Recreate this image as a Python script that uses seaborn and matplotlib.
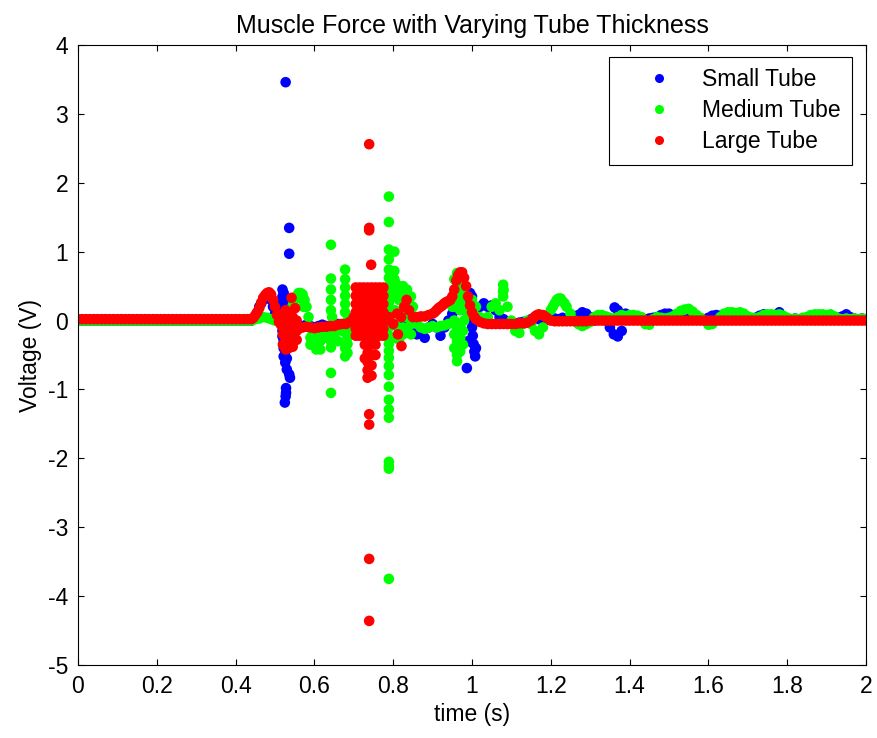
import matplotlib
matplotlib.use("Agg")
import matplotlib.pyplot as plt
from matplotlib.lines import Line2D
import seaborn as sns
import pandas as pd

# === Data (time in s, voltage in V) ===
time = [
    0.00, 0.01, 0.02, 0.03, 0.04, 0.05, 0.06, 0.07, 0.08, 0.09,
    0.10, 0.11, 0.12, 0.13, 0.14, 0.15, 0.16, 0.17, 0.18, 0.19,
    0.20, 0.21, 0.22, 0.23, 0.24, 0.25, 0.26, 0.27, 0.28, 0.29,
    0.30, 0.31, 0.32, 0.33, 0.34, 0.35, 0.36, 0.37, 0.38, 0.39,
    0.40, 0.41, 0.42, 0.43, 0.44, 0.45, 0.46, 0.47, 0.48, 0.49,
    0.50, 0.51, 0.52, 0.53, 0.54, 0.55, 0.56, 0.57, 0.58, 0.59,
    0.60, 0.61, 0.62, 0.63, 0.64, 0.65, 0.66, 0.67, 0.68, 0.69,
    0.70, 0.71, 0.72, 0.73, 0.74, 0.75, 0.76, 0.77, 0.78, 0.79,
    0.80, 0.81, 0.82, 0.83, 0.84, 0.85, 0.86, 0.87, 0.88, 0.89,
    0.90, 0.91, 0.92, 0.93, 0.94, 0.95, 0.96, 0.97, 0.98, 0.99,
    1.00, 1.01, 1.02, 1.03, 1.04, 1.05, 1.06, 1.07, 1.08, 1.09,
    1.10, 1.11, 1.12, 1.13, 1.14, 1.15, 1.16, 1.17, 1.18, 1.19,
    1.20, 1.21, 1.22, 1.23, 1.24, 1.25, 1.26, 1.27, 1.28, 1.29,
    1.30, 1.31, 1.32, 1.33, 1.34, 1.35, 1.36, 1.37, 1.38, 1.39,
    1.40, 1.41, 1.42, 1.43, 1.44, 1.45, 1.46, 1.47, 1.48, 1.49,
    1.50, 1.51, 1.52, 1.53, 1.54, 1.55, 1.56, 1.57, 1.58, 1.59,
    1.60, 1.61, 1.62, 1.63, 1.64, 1.65, 1.66, 1.67, 1.68, 1.69,
    1.70, 1.71, 1.72, 1.73, 1.74, 1.75, 1.76, 1.77, 1.78, 1.79,
    1.80, 1.81, 1.82, 1.83, 1.84, 1.85, 1.86, 1.87, 1.88, 1.89,
    1.90, 1.91, 1.92, 1.93, 1.94, 1.95, 1.96, 1.97, 1.98, 1.99,
    2.00,
]

small_v = [
    0.00, 0.00, 0.00, 0.00, 0.00, 0.00, 0.00, 0.00, 0.00, 0.00,
    0.00, 0.00, 0.00, 0.00, 0.00, 0.00, 0.00, 0.00, 0.00, 0.00,
    0.00, 0.00, 0.00, 0.00, 0.00, 0.00, 0.00, 0.00, 0.00, 0.00,
    0.00, 0.00, 0.00, 0.00, 0.00, 0.00, 0.00, 0.00, 0.00, 0.00,
    0.00, 0.00, 0.00, 0.00, 0.00, 0.05, 0.20, 0.30, 0.35, 0.30,
    0.10, 0.00, 0.20, 0.00, -0.10, -0.08, -0.10, -0.08, -0.06, -0.08,
    -0.10, -0.08, -0.06, -0.08, -0.10, -0.07, -0.05, -0.08, -0.06, -0.05,
    0.00, -0.05, -0.06, -0.04, -0.05, -0.06, -0.05, -0.04, -0.05, -0.06,
    -0.05, -0.08, -0.06, -0.05, -0.08, -0.10, -0.20, -0.15, -0.25, -0.10,
    -0.05, -0.10, -0.22, -0.10, 0.00, 0.10, 0.20, 0.25, 0.15, -0.30,
    0.35, -0.40, 0.20, 0.25, 0.20, 0.22, 0.15, 0.05, 0.02, -0.03,
    -0.03, -0.04, -0.03, -0.02, -0.03, 0.02, 0.03, 0.02, 0.00, 0.01,
    0.02, 0.03, 0.02, 0.04, 0.03, 0.05, 0.06, 0.08, 0.12, 0.10,
    0.05, 0.00, 0.02, 0.05, 0.00, -0.10, -0.20, -0.23, -0.15, 0.10,
    0.05, 0.03, 0.02, 0.03, 0.02, 0.03, 0.04, 0.05, 0.08, 0.10,
    0.10, 0.06, 0.03, 0.02, 0.03, 0.02, 0.03, 0.04, 0.03, 0.02,
    0.04, 0.07, 0.08, 0.07, 0.04, 0.03, 0.02, 0.03, 0.02, 0.03,
    0.02, 0.03, 0.04, 0.07, 0.09, 0.05, 0.03, 0.08, 0.12, 0.06,
    0.03, 0.02, 0.03, 0.02, 0.03, 0.04, 0.03, 0.02, 0.03, 0.02,
    0.03, 0.02, 0.03, 0.04, 0.06, 0.09, 0.05, 0.03, 0.02, 0.03,
    0.02,
]

medium_v = [
    0.00, 0.00, 0.00, 0.00, 0.00, 0.00, 0.00, 0.00, 0.00, 0.00,
    0.00, 0.00, 0.00, 0.00, 0.00, 0.00, 0.00, 0.00, 0.00, 0.00,
    0.00, 0.00, 0.00, 0.00, 0.00, 0.00, 0.00, 0.00, 0.00, 0.00,
    0.00, 0.00, 0.00, 0.00, 0.00, 0.00, 0.00, 0.00, 0.00, 0.00,
    0.00, 0.00, 0.00, 0.00, 0.00, 0.02, 0.03, 0.05, 0.04, 0.02,
    0.00, -0.02, 0.00, 0.05, 0.15, 0.30, 0.40, 0.38, 0.20, -0.10,
    -0.30, -0.20, -0.15, -0.25, -0.10, -0.20, -0.30, -0.15, -0.10, -0.20,
    -0.10, 0.05, 0.15, 0.10, 0.00, 0.05, 0.10, 0.00, 0.20, 0.40,
    0.55, 0.45, 0.40, 0.35, 0.25, 0.20, -0.05, -0.10, -0.12, -0.10,
    -0.08, -0.10, -0.08, -0.07, -0.05, 0.20, 0.40, 0.30, 0.00, 0.10,
    0.30, 0.20, 0.05, 0.00, 0.05, 0.20, 0.25, 0.15, 0.45, 0.20,
    0.00, -0.15, -0.18, -0.05, 0.00, -0.05, -0.15, -0.20, -0.10, 0.05,
    0.15, 0.25, 0.32, 0.28, 0.20, 0.10, 0.00, -0.05, -0.08, -0.05,
    -0.02, 0.05, 0.08, 0.08, 0.06, 0.04, 0.02, 0.05, 0.08, 0.06,
    0.08, 0.08, 0.07, 0.05, -0.05, -0.06, 0.02, 0.05, 0.04, 0.03,
    0.04, 0.06, 0.10, 0.14, 0.16, 0.17, 0.13, 0.08, 0.04, 0.00,
    -0.06, -0.05, 0.00, 0.05, 0.10, 0.12, 0.12, 0.11, 0.12, 0.10,
    0.06, 0.04, 0.03, 0.05, 0.08, 0.09, 0.09, 0.08, 0.09, 0.07,
    0.04, 0.02, 0.03, 0.02, 0.04, 0.05, 0.08, 0.09, 0.09, 0.09,
    0.08, 0.09, 0.06, 0.03, 0.02, 0.03, 0.02, 0.03, 0.02, 0.03,
    0.02,
]

large_v = [
    0.02, 0.02, 0.02, 0.02, 0.02, 0.02, 0.02, 0.02, 0.02, 0.02,
    0.02, 0.02, 0.02, 0.02, 0.02, 0.02, 0.02, 0.02, 0.02, 0.02,
    0.02, 0.02, 0.02, 0.02, 0.02, 0.02, 0.02, 0.02, 0.02, 0.02,
    0.02, 0.02, 0.02, 0.02, 0.02, 0.02, 0.02, 0.02, 0.02, 0.02,
    0.02, 0.02, 0.02, 0.02, 0.02, 0.08, 0.18, 0.33, 0.40, 0.38,
    0.20, -0.02, -0.10, -0.15, -0.20, -0.15, -0.12, -0.10, -0.09, -0.10,
    -0.11, -0.10, -0.09, -0.09, -0.08, -0.08, -0.06, -0.05, -0.05, -0.02,
    0.05, 0.45, 0.40, 0.20, -0.10, 0.45, 0.30, 0.45, 0.00, 0.05,
    -0.05, 0.10, 0.05, 0.20, 0.15, 0.05, 0.05, 0.06, 0.06, 0.08,
    0.10, 0.15, 0.20, 0.25, 0.28, 0.35, 0.58, 0.70, 0.62, 0.35,
    0.12, 0.02, -0.02, -0.04, -0.05, -0.05, -0.05, -0.05, -0.05, -0.05,
    -0.05, -0.05, -0.04, -0.04, -0.03, 0.00, 0.06, 0.09, 0.08, 0.04,
    0.00, -0.01, -0.01, -0.01, -0.01, -0.01, -0.01, -0.01, -0.01, -0.01,
    0.00, 0.00, 0.00, 0.00, 0.00, 0.00, 0.00, 0.00, 0.00, 0.00,
    0.00, 0.00, 0.00, 0.00, 0.00, 0.00, 0.00, 0.00, 0.00, 0.00,
    0.00, 0.00, 0.00, 0.00, 0.00, 0.00, 0.00, 0.00, 0.00, 0.00,
    0.00, 0.00, 0.00, 0.00, 0.00, 0.00, 0.00, 0.00, 0.00, 0.00,
    0.00, 0.00, 0.00, 0.00, 0.00, 0.00, 0.00, 0.00, 0.00, 0.00,
    0.00, 0.00, 0.00, 0.00, 0.00, 0.00, 0.00, 0.00, 0.00, 0.00,
    0.00, 0.00, 0.00, 0.00, 0.00, 0.00, 0.00, 0.00, 0.00, 0.00,
    0.00,
]

# spikes / vertical bursts / in-between samples on steep parts
small_spike_t = [
    0.527, 0.536, 0.536,
    0.519, 0.519, 0.519, 0.519, 0.519, 0.519, 0.519, 0.519,
    0.522, 0.522, 0.522, 0.522, 0.522, 0.522,
    0.526, 0.526, 0.530, 0.530, 0.536, 0.538,
    0.528, 0.528, 0.527, 0.525,
    0.987, 0.995, 0.996, 0.997, 0.998, 1.000, 1.002, 1.004, 1.006, 1.008,
    1.362, 1.370, 1.375,
    0.455, 0.465, 0.475, 0.485, 0.495,
]
small_spike_v = [
    3.46, 1.345, 0.97,
    0.45, 0.35, 0.25, 0.15, 0.05, -0.05, -0.15, -0.23,
    0.40, 0.28, 0.12, -0.30, -0.40, -0.52,
    -0.61, -0.45, -0.71, -0.55, -0.78, -0.83,
    -0.98, -1.05, -1.10, -1.19,
    -0.69, 0.40, 0.28, 0.15, 0.02, -0.10, -0.22, -0.34, -0.45, -0.52,
    0.19, 0.15, 0.10,
    0.12, 0.25, 0.33, 0.33, 0.20,
]

medium_spike_t = [
    0.642, 0.642, 0.642, 0.642, 0.642, 0.642, 0.642, 0.642, 0.642, 0.642,
    0.645, 0.645,
    0.678, 0.678, 0.678, 0.678, 0.678, 0.678, 0.678, 0.678,
    0.684, 0.684, 0.684, 0.684, 0.684,
    0.590, 0.590, 0.605, 0.605, 0.615, 0.615, 0.572, 0.572,
    0.789, 0.789, 0.789, 0.789, 0.789, 0.789, 0.789, 0.789, 0.789, 0.789,
    0.789, 0.789, 0.789, 0.789, 0.789, 0.789, 0.789, 0.789, 0.789, 0.789,
    0.789, 0.789, 0.789, 0.789, 0.789, 0.789,
    0.803, 0.803, 0.803,
    0.805, 0.805, 0.805, 0.805, 0.805,
    0.815, 0.815, 0.815, 0.815, 0.815,
    0.825, 0.825, 0.825, 0.825, 0.825,
    0.835, 0.835, 0.835, 0.835,
    0.845, 0.845, 0.845, 0.845,
    0.955, 0.955, 0.955, 0.955, 0.955, 0.955,
    0.962, 0.962, 0.962, 0.962, 0.962, 0.962, 0.962,
    0.970, 0.970, 0.970, 0.970, 0.970, 0.970,
    0.977, 0.977, 0.977, 0.977,
    1.079, 1.079, 1.079,
    0.535, 0.545, 0.555, 0.565, 0.575, 0.585, 0.595,
    1.205, 1.215, 1.225, 1.235,
]
medium_spike_v = [
    1.10, 0.61, 0.45, 0.30, 0.15, -0.20, -0.30, -0.39, -0.76, -1.05,
    0.05, -0.10,
    0.74, 0.60, 0.48, 0.36, 0.24, 0.12, -0.40, -0.52,
    0.00, -0.12, -0.24, -0.34, -0.47,
    -0.25, -0.35, -0.35, -0.42, -0.30, -0.42, 0.30, 0.20,
    1.80, 1.43, 1.03, 0.89, 0.74, 0.62, 0.50, 0.38, 0.26, 0.14,
    0.02, -0.10, -0.22, -0.34, -0.44, -0.54, -0.66, -0.79, -0.96, -1.15,
    -1.29, -1.41, -2.05, -2.11, -2.15, -3.75,
    1.00, 0.72, 0.60,
    0.55, 0.35, 0.15, -0.05, -0.25,
    0.50, 0.30, 0.10, -0.10, -0.28,
    0.50, 0.30, 0.10, -0.10, -0.20,
    0.45, 0.25, 0.05, -0.15,
    0.35, 0.15, -0.05, -0.20,
    0.60, 0.40, 0.20, 0.00, -0.20, -0.40,
    0.69, 0.50, 0.30, -0.10, -0.30, -0.50, -0.59,
    0.55, 0.35, 0.15, -0.05, -0.25, -0.45,
    0.40, 0.20, -0.15, -0.35,
    0.52, 0.42, 0.35,
    0.10, 0.22, 0.36, 0.40, 0.30, 0.05, -0.20,
    0.20, 0.30, 0.32, 0.25,
]

large_spike_t = [
    0.520, 0.520, 0.520, 0.520,
    0.527, 0.527, 0.527, 0.527, 0.527,
    0.535, 0.535, 0.535, 0.535, 0.535,
    0.545, 0.545, 0.545, 0.545,
    0.555, 0.555, 0.555,
    0.542, 0.551,
    0.705, 0.705, 0.705, 0.705, 0.705, 0.705, 0.705,
    0.715, 0.715, 0.715, 0.715, 0.715, 0.715, 0.715,
    0.725, 0.725, 0.725, 0.725, 0.725, 0.725, 0.725,
    0.735, 0.735, 0.735, 0.735, 0.735, 0.735, 0.735,
    0.745, 0.745, 0.745, 0.745, 0.745, 0.745, 0.745,
    0.755, 0.755, 0.755, 0.755, 0.755, 0.755, 0.755,
    0.765, 0.765, 0.765, 0.765, 0.765, 0.765, 0.765,
    0.775, 0.775, 0.775, 0.775, 0.775, 0.775, 0.775,
    0.735, 0.735, 0.735, 0.735, 0.735,
    0.745, 0.745, 0.745, 0.745,
    0.728, 0.728, 0.755, 0.755,
    0.739, 0.739, 0.739, 0.744, 0.739, 0.739, 0.739, 0.739,
    0.821, 0.834, 0.828, 0.812,
    0.445, 0.455, 0.465, 0.475, 0.485, 0.495, 0.505, 0.515,
    0.905, 0.915, 0.925, 0.935, 0.945, 0.955, 0.965, 0.975, 0.985,
    0.995, 1.005, 1.155, 1.165, 1.185,
]
large_spike_v = [
    0.10, -0.05, -0.20, -0.35,
    0.15, 0.00, -0.15, -0.30, -0.42,
    0.10, -0.05, -0.20, -0.35, -0.40,
    0.05, -0.10, -0.25, -0.38,
    0.00, -0.15, -0.28,
    0.33, 0.18,
    0.48, 0.36, 0.24, 0.12, 0.00, -0.12, -0.22,
    0.48, 0.36, 0.24, 0.12, 0.00, -0.12, -0.22,
    0.48, 0.36, 0.24, 0.12, 0.00, -0.12, -0.22,
    0.48, 0.36, 0.24, 0.12, 0.00, -0.12, -0.22,
    0.48, 0.36, 0.24, 0.12, 0.00, -0.12, -0.22,
    0.48, 0.36, 0.24, 0.12, 0.00, -0.12, -0.22,
    0.48, 0.36, 0.24, 0.12, 0.00, -0.12, -0.22,
    0.48, 0.36, 0.24, 0.12, 0.00, -0.12, -0.22,
    -0.35, -0.47, -0.60, -0.72, -0.83,
    -0.35, -0.50, -0.65, -0.80,
    -0.35, -0.55, -0.35, -0.50,
    2.56, 1.345, 1.31, 0.81, -1.36, -1.51, -3.46, -4.36,
    -0.37, 0.30, 0.20, -0.20,
    0.04, 0.12, 0.26, 0.37, 0.41, 0.30, 0.08, -0.06,
    0.12, 0.18, 0.22, 0.27, 0.30, 0.45, 0.66, 0.70, 0.50,
    0.22, 0.06, 0.03, 0.08, 0.06,
]

tubes = ["Small Tube", "Medium Tube", "Large Tube"]
colors = ["#0000ff", "#00ff00", "#ff0000"]
x_ticks = [0, 0.2, 0.4, 0.6, 0.8, 1.0, 1.2, 1.4, 1.6, 1.8, 2.0]
x_tick_labels = ["0", "0.2", "0.4", "0.6", "0.8", "1", "1.2", "1.4", "1.6", "1.8", "2"]
y_ticks = [-5, -4, -3, -2, -1, 0, 1, 2, 3, 4]

# === Long-form table, drawn in order: small, medium, large (large on top) ===
parts = []
for name, v, st, sv in [
    (tubes[0], small_v, small_spike_t, small_spike_v),
    (tubes[1], medium_v, medium_spike_t, medium_spike_v),
    (tubes[2], large_v, large_spike_t, large_spike_v),
]:
    parts.append(pd.DataFrame({"time": time + st, "voltage": v + sv, "tube": name}))
df = pd.concat(parts, ignore_index=True)

# === Style ===
sns.set_theme(style="ticks", rc={
    "xtick.direction": "in", "ytick.direction": "in",
    "xtick.top": True, "ytick.right": True,
    "axes.linewidth": 0.8, "axes.edgecolor": "black",
    "xtick.color": "black", "ytick.color": "black",
    "text.color": "black", "axes.labelcolor": "black",
    "axes.unicode_minus": False,
})
plt.rcParams["font.family"] = ["Liberation Sans", "DejaVu Sans"]

fig = plt.figure(figsize=(8.77, 7.38), dpi=100)
ax = fig.add_axes([78 / 877, 1 - 665 / 738, 788 / 877, 620 / 738])

sns.scatterplot(data=df, x="time", y="voltage", hue="tube", hue_order=tubes,
                palette=dict(zip(tubes, colors)), s=58, linewidth=0,
                legend=False, ax=ax)

ax.set_xlim(0, 2)
ax.set_ylim(-5, 4)
ax.set_xticks(x_ticks)
ax.set_xticklabels(x_tick_labels)
ax.set_yticks(y_ticks)
ax.set_yticklabels([str(y) for y in y_ticks])
ax.tick_params(axis="both", length=4.5, width=0.8, labelsize=16.5, colors="black")
ax.tick_params(axis="x", pad=7)
ax.tick_params(axis="y", pad=7)

ax.set_xlabel("time (s)", fontsize=16.5)
ax.set_ylabel("Voltage (V)", fontsize=16.5)
ax.set_title("Muscle Force with Varying Tube Thickness", fontsize=18, pad=9)

# === Legend ===
handles = [Line2D([], [], linestyle="none", marker="o", markersize=6.5,
                  markerfacecolor=c, markeredgewidth=0) for c in colors]
leg = ax.legend(handles, tubes, loc="upper right", bbox_to_anchor=(0.982, 0.981),
                borderaxespad=0, fontsize=16.5, frameon=True, fancybox=False,
                edgecolor="black", framealpha=1, handlelength=3.35,
                handletextpad=0.2, labelspacing=0.35, borderpad=0.5)
leg.get_frame().set_linewidth(0.8)

fig.savefig("out.png", dpi=100)
